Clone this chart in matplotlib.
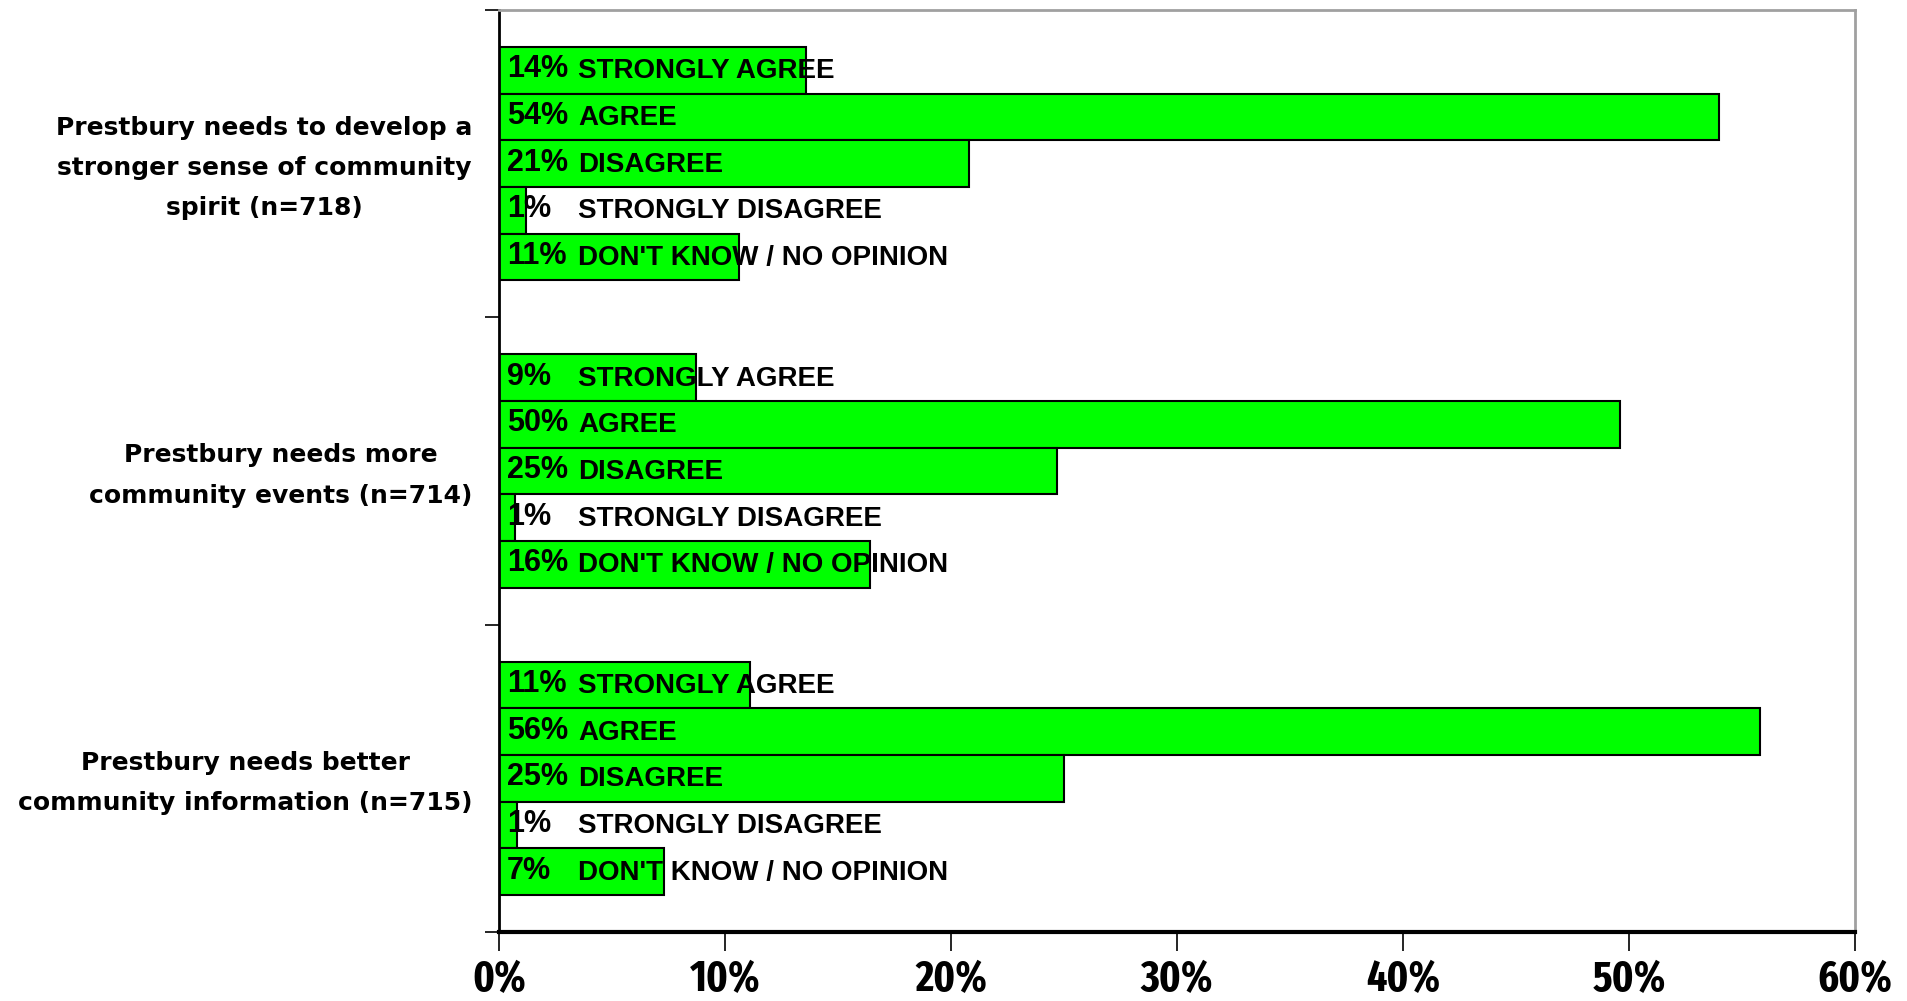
import matplotlib.pyplot as plt

# survey questions, top to bottom
questions = [
    "Prestbury needs to develop a\nstronger sense of community\nspirit (n=718)",
    "Prestbury needs more\ncommunity events (n=714)",
    "Prestbury needs better\ncommunity information (n=715)",
]
responses = ["STRONGLY AGREE", "AGREE", "DISAGREE", "STRONGLY DISAGREE",
             "DON'T KNOW / NO OPINION"]

# percentages per question, in the order of responses
spirit = [13.6, 54.0, 20.8, 1.2, 10.6]
events = [8.7, 49.6, 24.7, 0.7, 16.4]
information = [11.1, 55.8, 25.0, 0.8, 7.3]
values = [spirit, events, information]

xticks = [0, 10, 20, 30, 40, 50, 60]

bar_h = 0.152
green = '#00ff00'

fig = plt.figure(figsize=(19.08, 10.01), dpi=100)
ax = fig.add_axes([499 / 1908, 69 / 1001, 1356 / 1908, 922 / 1001])

for g, vals in enumerate(values):
    for j, v in enumerate(vals):
        y = g + 0.5 + (j - 2) * bar_h
        ax.barh(y, v, height=bar_h, color=green, edgecolor='black', linewidth=1.5)
        ax.annotate(f"{v:.0f}%", xy=(0, y), xytext=(8, 1), textcoords='offset pixels',
                    va='center', ha='left', fontsize=22, fontweight='bold',
                    family=['Liberation Sans', 'DejaVu Sans'])
        ax.annotate(responses[j], xy=(0, y), xytext=(79, -1), textcoords='offset pixels',
                    va='center', ha='left', fontsize=20, fontweight='bold',
                    family=['Liberation Sans', 'DejaVu Sans'])

ax.set_xlim(0, 60)
ax.set_ylim(3, 0)

ax.set_xticks(xticks)
ax.set_xticklabels([f"{t}%" for t in xticks],
                   family=['Fira Sans Extra Condensed', 'DejaVu Sans'],
                   fontweight='bold', fontsize=31)
ax.tick_params(axis='x', direction='out', length=14, width=1.2, pad=5)

ax.set_yticks([0, 1, 2, 3])
ax.set_yticklabels([])
ax.tick_params(axis='y', which='major', direction='out', length=10, width=1.2)
# question labels sit a touch above the group centre, as in the original
ax.set_yticks([g + 0.48 for g in range(len(questions))], minor=True)
ax.set_yticklabels(questions, minor=True, fontsize=18, fontweight='bold',
                   family='DejaVu Sans')
ax.tick_params(axis='y', which='minor', length=0, pad=19)
for lab in ax.get_yticklabels(minor=True):
    lab.set_multialignment('center')
    lab.set_linespacing(1.85)

ax.spines['left'].set_linewidth(2)
ax.spines['bottom'].set_linewidth(3)
ax.spines['top'].set_color('#a0a0a0')
ax.spines['right'].set_color('#a0a0a0')
ax.spines['top'].set_linewidth(2)
ax.spines['right'].set_linewidth(2)

fig.savefig('out.png', dpi=100)
